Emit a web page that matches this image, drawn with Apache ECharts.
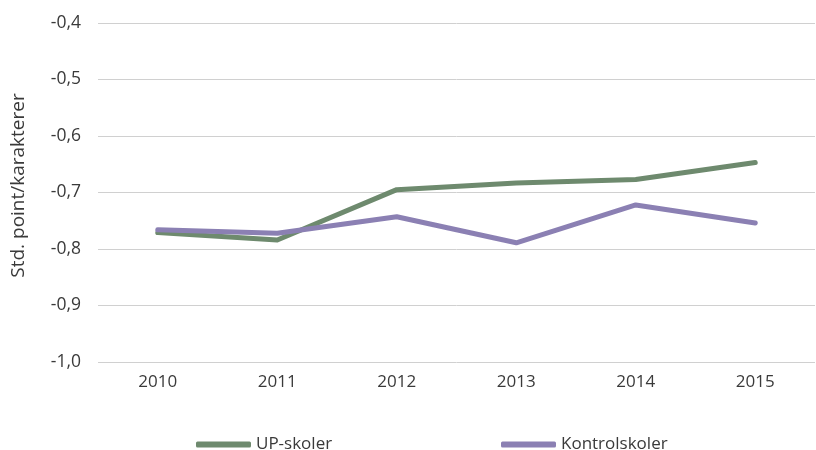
<!DOCTYPE html>
<html>
<head>
<meta charset="utf-8">
<script src="https://cdn.jsdelivr.net/npm/echarts@6/dist/echarts.min.js"></script>
<style>html,body{margin:0;padding:0;background:#fff}#c{width:816px;height:450px}</style>
</head>
<body>
<div id="c"></div>
<script>
var categories = ['2010', '2011', '2012', '2013', '2014', '2015'];
var upSkoler = [-0.771, -0.784, -0.695, -0.683, -0.677, -0.647];
var kontrolSkoler = [-0.766, -0.772, -0.743, -0.789, -0.722, -0.754];
var seriesNames = ['UP-skoler', 'Kontrolskoler'];
var yAxisName = 'Std. point/karakterer';

var font = '"Open Sans", Roboto, sans-serif';
var txt = '#3a3a3a';
var chart = echarts.init(document.getElementById('c'));
chart.setOption({
  animation: false,
  grid: { left: 98, right: 1, top: 23, bottom: 88 },
  legend: [
    { data: [seriesNames[0]], left: 191, top: 431, itemWidth: 55, itemHeight: 6, icon: 'roundRect',
      textStyle: { fontFamily: font, fontSize: 17, color: txt } },
    { data: [seriesNames[1]], left: 496, top: 431, itemWidth: 55, itemHeight: 6, icon: 'roundRect',
      textStyle: { fontFamily: font, fontSize: 17, color: txt } }
  ],
  xAxis: {
    type: 'category', data: categories, boundaryGap: true,
    axisLine: { show: false }, axisTick: { show: false },
    axisLabel: { fontFamily: font, fontSize: 17, color: txt, margin: 12 }
  },
  yAxis: {
    type: 'value', min: -1.0, max: -0.4, interval: 0.1,
    name: yAxisName, nameLocation: 'middle', nameGap: 70, nameRotate: 90,
    nameTextStyle: { fontFamily: font, fontSize: 19, color: txt, padding: [0, 0, 0, 14] },
    axisLine: { show: false }, axisTick: { show: false },
    axisLabel: { fontFamily: font, fontSize: 17.5, color: txt, margin: 17,
      formatter: function (v) { return v.toFixed(1).replace('.', ','); } },
    splitLine: { lineStyle: { color: '#d0d0d0', width: 1 } }
  },
  series: [
    { name: seriesNames[0], type: 'line', data: upSkoler, symbol: 'none',
      lineStyle: { color: '#6e8a6e', width: 5, cap: 'round', join: 'round' }, itemStyle: { color: '#6e8a6e' } },
    { name: seriesNames[1], type: 'line', data: kontrolSkoler, symbol: 'none',
      lineStyle: { color: '#8b80b3', width: 5, cap: 'round', join: 'round' }, itemStyle: { color: '#8b80b3' } }
  ]
});
</script>
</body>
</html>
